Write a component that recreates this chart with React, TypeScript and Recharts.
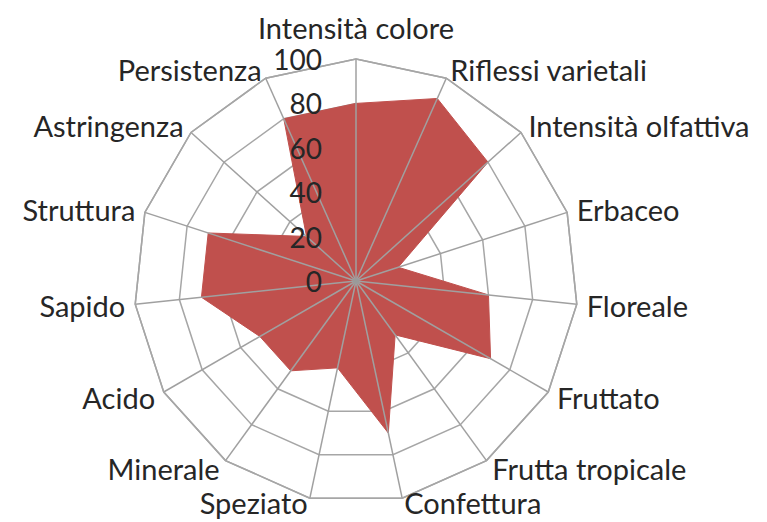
import { RadarChart, Radar, PolarGrid, PolarAngleAxis, PolarRadiusAxis } from 'recharts';

const categories = [
  'Intensità colore',
  'Riflessi varietali',
  'Intensità olfattiva',
  'Erbaceo',
  'Floreale',
  'Fruttato',
  'Frutta tropicale',
  'Confettura',
  'Speziato',
  'Minerale',
  'Acido',
  'Sapido',
  'Struttura',
  'Astringenza',
  'Persistenza',
];

const scores = [80, 90, 80, 20, 60, 70, 30, 70, 40, 50, 50, 70, 70, 30, 80];

const radiusTicks = [0, 20, 40, 60, 80, 100];
const maxScore = radiusTicks[radiusTicks.length - 1];

const data = categories.map((name, i) => ({ name, value: scores[i], full: maxScore }));

const FONT = 'Lato, "Open Sans", sans-serif';

const AngleTick = (props: any) => {
  const { x, y, payload, textAnchor } = props;
  const sin = Math.sin(((payload?.coordinate ?? 0) * Math.PI) / 180);
  // top label sits above the outer vertex, bottom ones nudged up to stay inside
  let dy = 0;
  if (textAnchor === 'middle') dy = -22;
  else if (sin < -0.9) dy = -5;
  return (
    <text
      x={x}
      y={y + dy}
      textAnchor={textAnchor}
      dominantBaseline="central"
      fontSize={29}
      fontFamily={FONT}
      fill="#262626"
    >
      {payload.value}
    </text>
  );
};

const RadiusTick = (props: any) => {
  const { x, y, payload } = props;
  return (
    <text
      x={x - 34}
      y={y}
      textAnchor="end"
      dominantBaseline="central"
      fontSize={28}
      fontFamily={FONT}
      fill="#262626"
    >
      {payload.value}
    </text>
  );
};

// spokes drawn on top of the filled area, like the Excel original
const Spokes = (props: any) => {
  const { points } = props;
  if (!points || !points.length) return null;
  return (
    <g>
      {points.map((p: any, i: number) => (
        <line key={i} x1={p.cx} y1={p.cy} x2={p.x} y2={p.y} stroke="#a0a0a0" strokeWidth={1.5} />
      ))}
      <circle cx={points[0].cx} cy={points[0].cy} r={3} fill="#9a9a9a" />
    </g>
  );
};

const App = () => {
  return (
    <div style={{ width: 767, height: 522, background: '#fff' }}>
      <style>{`body { margin: 0; }`}</style>
      <RadarChart
        width={767}
        height={522}
        data={data}
        cx={356}
        cy={281}
        outerRadius={222}
        startAngle={90}
        endAngle={-270}
      >
        <PolarGrid stroke="#a6a6a6" strokeWidth={1.5} radialLines={false} />
        <PolarAngleAxis
          dataKey="name"
          tick={<AngleTick />}
          tickSize={10}
          tickLine={false}
          axisLine={{ stroke: '#a6a6a6', strokeWidth: 1.5 }}
        />
        <PolarRadiusAxis
          angle={90}
          domain={[0, 100]}
          ticks={radiusTicks}
          tickCount={6}
          tick={<RadiusTick />}
          axisLine={false}
        />
        <Radar
          dataKey="value"
          fill="#c0504d"
          fillOpacity={1}
          stroke="#c0504d"
          strokeWidth={1}
          isAnimationActive={false}
        />
        <Radar
          dataKey="full"
          shape={<Spokes />}
          fill="none"
          stroke="none"
          isAnimationActive={false}
        />
      </RadarChart>
    </div>
  );
};

export default App;
